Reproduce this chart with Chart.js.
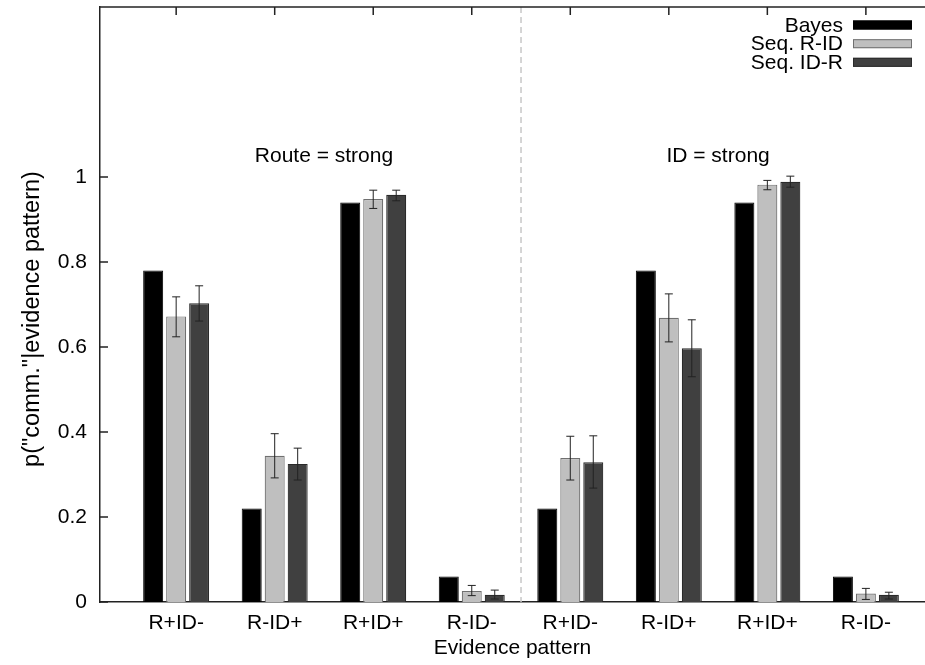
<!DOCTYPE html>
<html><head><meta charset="utf-8">
<script src="https://cdn.jsdelivr.net/npm/chart.js@4.4.0/dist/chart.umd.min.js"></script>
<style>html,body{margin:0;padding:0;background:#fff;} #wrap{width:925px;height:665px;position:relative;}</style>
</head><body><div id="wrap"><canvas id="c"></canvas></div>
<script>
const categories = ["R+ID-","R-ID+","R+ID+","R-ID-","R+ID-","R-ID+","R+ID+","R-ID-"];
const seriesNames = ["Bayes","Seq. R-ID","Seq. ID-R"];
const bayes      = [0.78, 0.22, 0.94, 0.06, 0.22, 0.78, 0.94, 0.06];
const seqRID     = [0.672,0.344,0.948,0.026,0.339,0.669,0.982,0.020];
const seqRIDLow  = [0.624,0.292,0.926,0.015,0.287,0.612,0.970,0.006];
const seqRIDHigh = [0.718,0.396,0.969,0.039,0.390,0.725,0.992,0.032];
const seqIDR     = [0.703,0.325,0.958,0.017,0.329,0.597,0.989,0.017];
const seqIDRLow  = [0.661,0.287,0.944,0.007,0.268,0.530,0.976,0.007];
const seqIDRHigh = [0.744,0.362,0.969,0.028,0.391,0.664,1.002,0.023];
const yTicks = [0, 0.2, 0.4, 0.6, 0.8, 1];
const groupLabels = ["Route = strong", "ID = strong"];
const groupLabelX = [1.5, 5.5];
const groupLabelY = 1.05;
const dividerX = 3.5;
const yTitle = 'p("comm."|evidence pattern)';
const xTitle = 'Evidence pattern';

const FONT = "'Liberation Sans', Arial, Helvetica, sans-serif";
const toPts = arr => arr.map((v, i) => ({x: i, y: v}));

const deco = {
  id: 'deco',
  beforeDatasetsDraw(chart) {
    const {ctx, chartArea: a, scales: {x}} = chart;
    const px = x.getPixelForValue(dividerX);
    ctx.save();
    ctx.strokeStyle = '#c8c8c8'; ctx.lineWidth = 1.5; ctx.setLineDash([6, 4]);
    ctx.beginPath(); ctx.moveTo(px, a.top); ctx.lineTo(px, a.bottom); ctx.stroke();
    ctx.restore();
  },
  afterDatasetsDraw(chart) {
    const {ctx, chartArea: a, scales: {x, y}} = chart;
    ctx.save();
    // error bars
    chart.data.datasets.forEach((ds, d) => {
      if (!ds.errLow) return;
      const meta = chart.getDatasetMeta(d);
      meta.data.forEach((bar, i) => {
        const cx = bar.x;
        const yl = y.getPixelForValue(ds.errLow[i]);
        const yh = y.getPixelForValue(ds.errHigh[i]);
        ctx.strokeStyle = '#222'; ctx.lineWidth = 1;
        ctx.beginPath();
        ctx.moveTo(cx, yl); ctx.lineTo(cx, yh);
        ctx.moveTo(cx - 4, yl); ctx.lineTo(cx + 4, yl);
        ctx.moveTo(cx - 4, yh); ctx.lineTo(cx + 4, yh);
        ctx.stroke();
      });
    });
    // top border
    ctx.strokeStyle = '#222'; ctx.lineWidth = 1.5;
    ctx.beginPath(); ctx.moveTo(a.left, a.top); ctx.lineTo(a.right, a.top); ctx.stroke();
    // inward ticks
    ctx.beginPath();
    yTicks.forEach(v => { const py = y.getPixelForValue(v); ctx.moveTo(a.left, py); ctx.lineTo(a.left + 8, py); });
    categories.forEach((c, i) => { const px = x.getPixelForValue(i); ctx.moveTo(px, a.top); ctx.lineTo(px, a.top + 8); });
    ctx.stroke();
    // group annotations
    ctx.fillStyle = '#000'; ctx.font = '21px ' + FONT; ctx.textAlign = 'center'; ctx.textBaseline = 'middle';
    groupLabels.forEach((t, i) => ctx.fillText(t, x.getPixelForValue(groupLabelX[i]), y.getPixelForValue(groupLabelY)));
    // legend
    const rows = [25, 43.7, 62.3];
    ctx.textAlign = 'right';
    chart.data.datasets.forEach((ds, d) => {
      const ry = rows[d];
      ctx.fillStyle = '#000';
      ctx.fillText(ds.label, 843, ry + 1);
      ctx.fillStyle = ds.backgroundColor;
      ctx.fillRect(853, ry - 4.5, 59, 9);
      ctx.strokeStyle = ds.borderColor; ctx.lineWidth = 1;
      ctx.strokeRect(853.5, ry - 4, 58, 8);
    });
    // y axis title
    ctx.save();
    ctx.translate(33, 319);
    ctx.rotate(-Math.PI / 2);
    ctx.textAlign = 'center'; ctx.textBaseline = 'middle';
    ctx.font = '23.5px ' + FONT;
    ctx.fillStyle = '#000';
    ctx.fillText(yTitle, 0, 0);
    ctx.restore();
    ctx.restore();
  }
};

new Chart(document.getElementById('c'), {
  type: 'bar',
  data: {
    datasets: [
      {label: seriesNames[0], data: toPts(bayes), backgroundColor: '#000000', borderColor: '#000000', borderWidth: 1},
      {label: seriesNames[1], data: toPts(seqRID), errLow: seqRIDLow, errHigh: seqRIDHigh, backgroundColor: '#bfbfbf', borderColor: '#707070', borderWidth: 1.2},
      {label: seriesNames[2], data: toPts(seqIDR), errLow: seqIDRLow, errHigh: seqIDRHigh, backgroundColor: '#404040', borderColor: '#2a2a2a', borderWidth: 1.2}
    ]
  },
  options: {
    responsive: true, maintainAspectRatio: false, animation: false,
    categoryPercentage: 0.70, barPercentage: 0.87,
    layout: {padding: {top: 7, left: 0, right: 0, bottom: 0}},
    plugins: {legend: {display: false}, tooltip: {enabled: false}},
    scales: {
      x: {
        type: 'linear', min: -0.773, max: 7.6, offset: false,
        grid: {display: false, drawTicks: false},
        border: {display: true, color: '#222', width: 1.5},
        afterBuildTicks: s => { s.ticks = categories.map((c, i) => ({value: i})); },
        afterFit: s => { s.height = 63; s.paddingLeft = 0; s.paddingRight = 0; },
        ticks: {autoSkip: false, maxRotation: 0, padding: 9, color: '#000', font: {family: FONT, size: 21},
          callback: v => categories[v]},
        title: {display: true, text: xTitle, color: '#000', font: {family: FONT, size: 21}, padding: {top: 0, bottom: 4}}
      },
      y: {
        min: 0, max: 1.4,
        grid: {display: false, drawTicks: false},
        border: {display: true, color: '#222', width: 1.5},
        afterBuildTicks: s => { s.ticks = yTicks.map(v => ({value: v})); },
        afterFit: s => { s.width = 100; s.paddingTop = 0; s.paddingBottom = 0; },
        ticks: {padding: 13, color: '#000', font: {family: FONT, size: 21}, callback: v => String(v)},
        title: {display: false}
      }
    }
  },
  plugins: [deco]
});
</script>
</body></html>
